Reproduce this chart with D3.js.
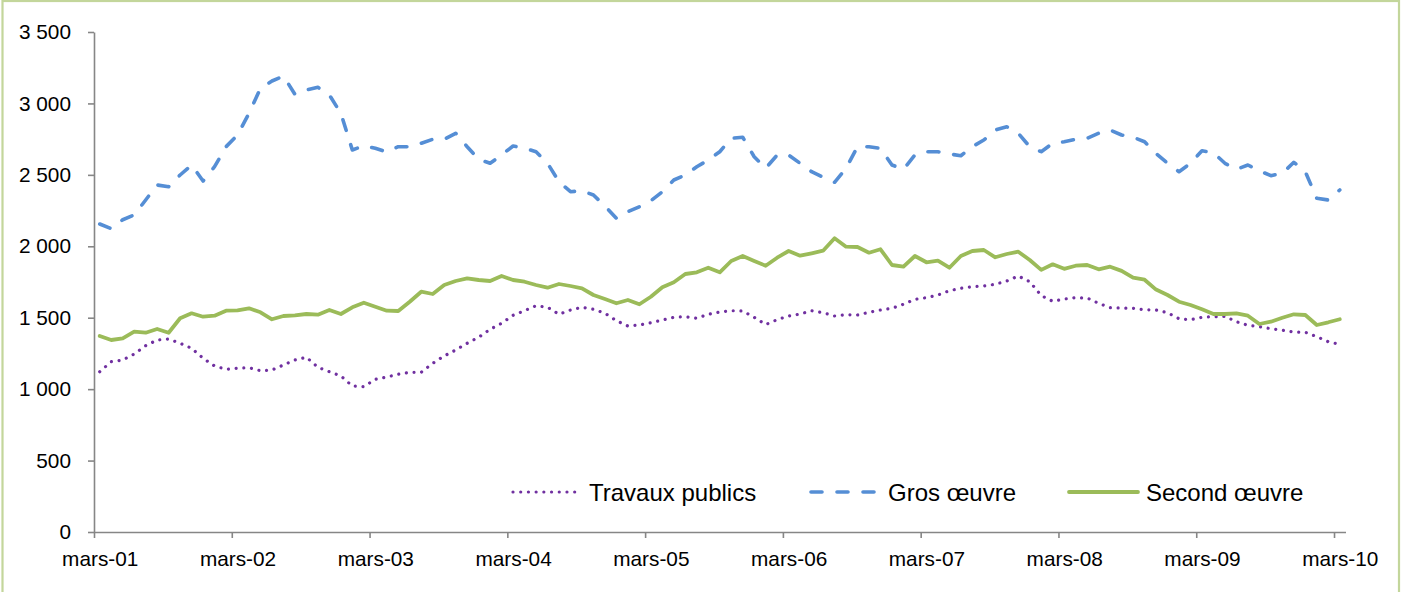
<!DOCTYPE html>
<html>
<head>
<meta charset="utf-8">
<script src="https://cdn.jsdelivr.net/npm/d3@7"></script>
<style>
  html, body { margin: 0; padding: 0; background: #fff; }
  svg { display: block; font-family: "Liberation Sans", Arial, sans-serif; }
</style>
</head>
<body>
<svg id="chart" width="1402" height="592"></svg>
<script>
// libellés de l'axe des x (un tous les 12 mois)
const tickLabels = ["mars-01", "mars-02", "mars-03", "mars-04", "mars-05",
  "mars-06", "mars-07", "mars-08", "mars-09", "mars-10"];
const yTicks = [0, 500, 1000, 1500, 2000, 2500, 3000, 3500];

// séries mensuelles, de mars 2001 à mars 2010
const travauxPublics = [
  1122, 1192, 1204, 1246, 1304, 1344, 1351, 1321, 1286, 1216, 1162, 1139,
  1146, 1150, 1129, 1134, 1169, 1204, 1223, 1153, 1122, 1092, 1022, 1017,
  1069, 1085, 1104, 1118, 1118, 1181, 1232, 1274, 1321, 1363, 1419, 1461,
  1517, 1549, 1584, 1573, 1524, 1554, 1573, 1559, 1531, 1479, 1442, 1449,
  1465, 1484, 1503, 1507, 1496, 1524, 1540, 1549, 1547, 1503, 1452, 1486,
  1512, 1526, 1549, 1535, 1512, 1521, 1519, 1538, 1554, 1566, 1594, 1629,
  1640, 1659, 1689, 1706, 1717, 1722, 1734, 1757, 1792, 1752, 1655, 1615,
  1631, 1640, 1638, 1601, 1570, 1568, 1566, 1556, 1554, 1535, 1493, 1486,
  1503, 1507, 1510, 1472, 1447, 1437, 1423, 1412, 1400, 1398, 1367, 1332,
  1314
];
const grosOeuvre = [
  2156, 2123, 2186, 2219, 2324, 2429, 2417, 2499, 2569, 2457, 2557, 2697,
  2779, 2931, 3106, 3157, 3192, 3064, 3094, 3113, 3059, 2931, 2674, 2704,
  2686, 2660, 2697, 2697, 2721, 2749, 2749, 2791, 2697, 2609, 2581, 2639,
  2702, 2686, 2662, 2581, 2452, 2382, 2389, 2359, 2282, 2196, 2242, 2277,
  2319, 2382, 2464, 2499, 2557, 2604, 2662, 2756, 2763, 2627, 2546, 2639,
  2639, 2581, 2522, 2483, 2448, 2546, 2697, 2697, 2686, 2569, 2539, 2639,
  2662, 2662, 2646, 2634, 2697, 2744, 2814, 2837, 2791, 2697, 2662, 2721,
  2732, 2749, 2756, 2791, 2814, 2779, 2763, 2732, 2650, 2581, 2522, 2581,
  2669, 2655, 2581, 2539, 2569, 2529, 2494, 2511, 2588, 2522, 2336, 2324,
  2394
];
const secondOeuvre = [
  1372, 1344, 1356, 1402, 1395, 1421, 1395, 1496, 1531, 1507, 1514, 1549,
  1552, 1566, 1538, 1489, 1512, 1517, 1526, 1521, 1554, 1526, 1573, 1605,
  1577, 1549, 1547, 1612, 1682, 1666, 1729, 1757, 1776, 1764, 1757, 1792,
  1764, 1752, 1729, 1710, 1736, 1722, 1706, 1659, 1631, 1601, 1624, 1594,
  1647, 1713, 1748, 1806, 1818, 1850, 1818, 1897, 1932, 1897, 1864, 1920,
  1967, 1934, 1951, 1969, 2056, 1997, 1995, 1955, 1979, 1869, 1857, 1932,
  1888, 1899, 1850, 1932, 1967, 1974, 1923, 1946, 1962, 1904, 1835, 1874,
  1842, 1864, 1869, 1839, 1857, 1828, 1780, 1766, 1697, 1659, 1612, 1589,
  1559, 1526, 1526, 1531, 1514, 1456, 1472, 1500, 1524, 1519, 1449, 1468,
  1489
];

const series = [
  { name: "Travaux publics", values: travauxPublics, color: "#7030a0", width: 3.2, dash: "0.01 7.7" },
  { name: "Gros œuvre", values: grosOeuvre, color: "#558ed5", width: 3.6, dash: "11 15" },
  { name: "Second œuvre", values: secondOeuvre, color: "#9bbb59", width: 3.8, dash: null }
];

const svg = d3.select("#chart");
const n = travauxPublics.length;

// cadre vert clair
svg.append("rect")
  .attr("x", 2.5).attr("y", 1)
  .attr("width", 1396.5).attr("height", 610)
  .attr("fill", "none")
  .attr("stroke", "#c3d69b")
  .attr("stroke-width", 2.2);

// échelles : un créneau par mois, point au milieu du créneau
const x = d3.scaleLinear().domain([0, n]).range([94, 1345.5]);
const y = d3.scaleLinear().domain([0, 3500]).range([532, 32]);
const half = x(0.5) - x(0);

const axisColor = "#868686";

// axe y
const yAxis = svg.append("g")
  .attr("transform", `translate(${x(0)},0)`)
  .call(d3.axisLeft(y)
    .tickValues(yTicks)
    .tickSize(6)
    .tickSizeOuter(0)
    .tickPadding(17)
    .tickFormat(d => d3.format(",")(d).replace(",", " ")));

// axe x
const xAxis = svg.append("g")
  .attr("transform", `translate(0,${y(0)})`)
  .call(d3.axisBottom(x)
    .tickValues(d3.range(0, n, 12))
    .tickSize(6)
    .tickSizeOuter(0)
    .tickFormat((d, i) => tickLabels[i]));

xAxis.selectAll("text")
  .attr("x", half)
  .attr("y", 19.5)
  .attr("dy", "0.71em");

[yAxis, xAxis].forEach(g => {
  g.select(".domain").attr("stroke", axisColor).attr("stroke-width", 1.6);
  g.selectAll(".tick line").attr("stroke", axisColor).attr("stroke-width", 1.6);
  g.selectAll("text")
    .attr("fill", "#000")
    .style("font-size", "20.8px")
    .style("font-family", "'Liberation Sans', Arial, sans-serif");
});

// courbes
const line = d3.line()
  .x((d, i) => x(i + 0.5))
  .y(d => y(d));

series.forEach(s => {
  svg.append("path")
    .datum(s.values)
    .attr("fill", "none")
    .attr("stroke", s.color)
    .attr("stroke-width", s.width)
    .attr("stroke-linecap", "round")
    .attr("stroke-linejoin", "round")
    .attr("stroke-dasharray", s.dash)
    .attr("d", line);
});

// légende
const legendY = 492;
const legendPos = [
  { x1: 513, x2: 577, tx: 589 },
  { x1: 811, x2: 879, tx: 888 },
  { x1: 1069, x2: 1138, tx: 1146 }
];

const legend = svg.append("g");
series.forEach((s, i) => {
  const p = legendPos[i];
  legend.append("line")
    .attr("x1", p.x1).attr("x2", p.x2)
    .attr("y1", legendY).attr("y2", legendY)
    .attr("stroke", s.color)
    .attr("stroke-width", s.width)
    .attr("stroke-linecap", "round")
    .attr("stroke-dasharray", s.dash);
  legend.append("text")
    .attr("x", p.tx)
    .attr("y", legendY)
    .attr("dy", "0.36em")
    .style("font-size", "24px")
    .attr("fill", "#000")
    .text(s.name);
});
</script>
</body>
</html>
